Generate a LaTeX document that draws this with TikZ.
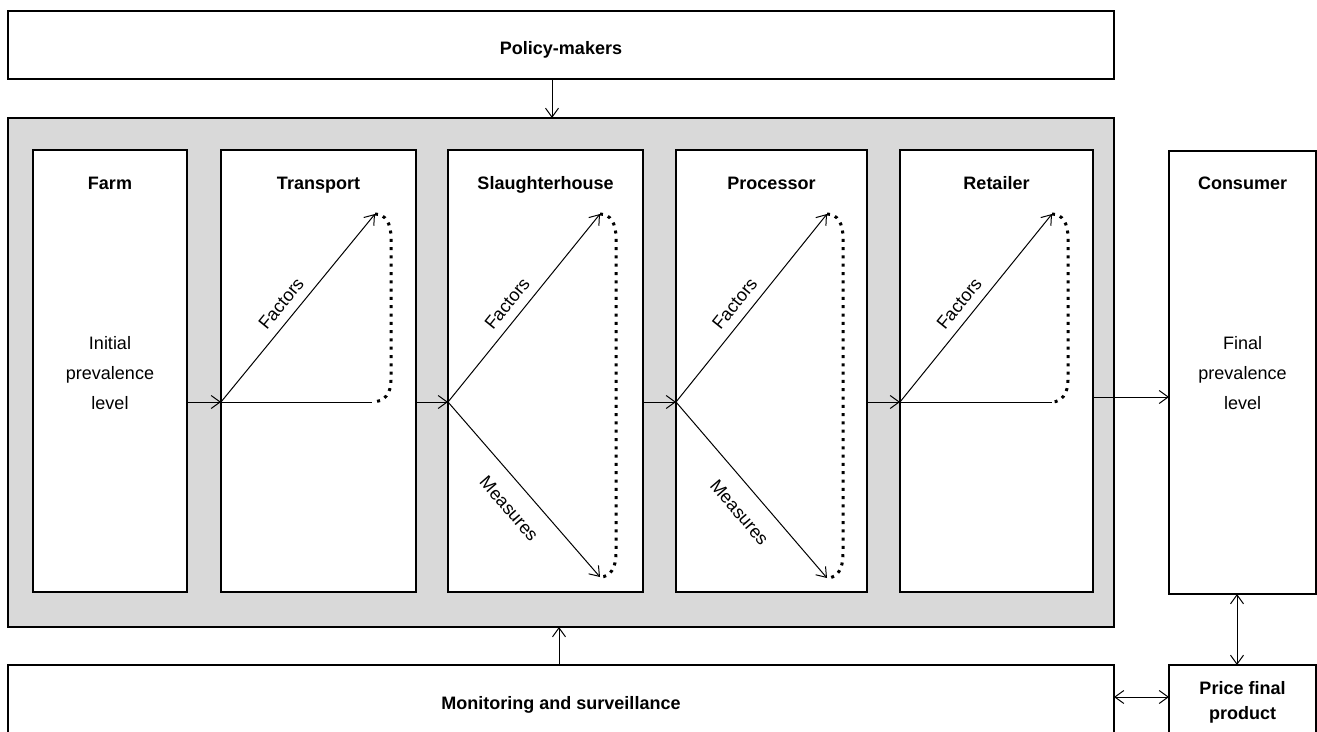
\documentclass[tikz,border=0pt]{standalone}
\usepackage{fontspec}
\setmainfont{Liberation Sans}
\usetikzlibrary{arrows.meta,calc}
\definecolor{chaingray}{HTML}{D9D9D9}
\begin{document}
\begin{tikzpicture}[x=1pt,y=-1pt,
  box/.style={draw=black,line width=1.3pt,fill=white,rectangle,inner sep=0pt,outer sep=0pt},
  title/.style={font=\fontsize{18}{25}\selectfont\bfseries,align=center},
  body/.style={font=\fontsize{18}{30}\selectfont,align=center},
  arr/.style={line width=1pt,-{Straight Barb[length=9pt,width=13pt]}},
  darr/.style={line width=1pt,{Straight Barb[length=9pt,width=13pt]}-{Straight Barb[length=9pt,width=13pt]}},
  flow/.style={line width=1pt},
  loopdots/.style={line width=3pt,dash pattern=on 3pt off 5.3pt},
  labA/.style={font=\fontsize{18}{22}\selectfont,sloped,above,inner sep=9pt},
  labB/.style={font=\fontsize{18}{22}\selectfont,sloped,below,inner sep=17pt},
]
\useasboundingbox (0,0) rectangle (1317,731);
\clip (0,0) rectangle (1317,731);
\fill[white] (0,0) rectangle (1317,731);

% main boxes
\node[box,fill=chaingray,minimum width=1106pt,minimum height=509pt] (chain) at (561,372.5) {};
\node[box,minimum width=1106pt,minimum height=68pt] (policy) at (561,45) {};
\node[title,anchor=base] (policyT) at (561,54) {Policy-makers};
\node[box,title,text height=13pt,text depth=0pt,minimum width=1106pt,minimum height=75pt] (monitor) at (561,702.5) {Monitoring and surveillance};
\node[box,title,minimum width=147pt,minimum height=75pt] (price) at (1242.5,702.5) {Price final\\product};

% stage boxes
\node[box,minimum width=154pt,minimum height=442pt] (farm) at (110,371) {};
\node[box,minimum width=195pt,minimum height=442pt] (transport) at (318.5,371) {};
\node[box,minimum width=195pt,minimum height=442pt] (slaughter) at (545.5,371) {};
\node[box,minimum width=191pt,minimum height=442pt] (processor) at (771.5,371) {};
\node[box,minimum width=193pt,minimum height=442pt] (retailer) at (996.5,371) {};
\node[box,minimum width=147pt,minimum height=443pt] (consumer) at (1242.5,372.5) {};

% titles
\node[title,anchor=base] (farmT) at (110,189.5) {Farm};
\node[title,anchor=base] (transportT) at (318.5,189.5) {Transport};
\node[title,anchor=base] (slaughterT) at (545.5,189.5) {Slaughterhouse};
\node[title,anchor=base] (processorT) at (771.5,189.5) {Processor};
\node[title,anchor=base] (retailerT) at (996.5,189.5) {Retailer};
\node[title,anchor=base] (consumerT) at (1242.5,189.5) {Consumer};

\node[body] (farmB) at (110,373) {Initial\\prevalence\\level};
\node[body] (consumerB) at (1242.5,373) {Final\\prevalence\\level};

% helper coordinates
\coordinate (row) at (0,402);
\coordinate (row2) at (0,397);
\coordinate (pol) at (552,0);
\coordinate (mon) at (559,0);
\coordinate (cp) at (1237,0);
\coordinate (mp) at (0,697);

% flows between stages
\draw[arr] (farm.east |- row) -- (transport.west |- row);
\draw[arr] (transport.east |- row) -- (slaughter.west |- row);
\draw[arr] (slaughter.east |- row) -- (processor.west |- row);
\draw[arr] (processor.east |- row) -- (retailer.west |- row);
\draw[arr] (retailer.east |- row2) -- (consumer.west |- row2);

% vertical links
\draw[arr] (policy.south -| pol) -- (chain.north -| pol);
\draw[arr] (monitor.north -| mon) -- (chain.south -| mon);
\draw[darr] (consumer.south -| cp) -- (price.north -| cp);
\draw[darr] (monitor.east |- mp) -- (price.west |- mp);

% transport
\coordinate (t0) at (transport.west |- row);
\coordinate (tF) at (375,214);
\coordinate (tE) at (372,402);
\draw[arr] (t0) -- node[labA,pos=0.47]{Factors} (tF);
\draw[flow] (t0) -- (tE);
\draw[loopdots] (tF) .. controls (386,214) and (391,224) .. (391,238) -- (391,380) .. controls (391,393) and (385,402) .. (tE);

% slaughterhouse
\coordinate (s0) at (slaughter.west |- row);
\coordinate (sF) at (600,214);
\coordinate (sM) at (600,577);
\draw[arr] (s0) -- node[labA,pos=0.47]{Factors} (sF);
\draw[arr] (s0) -- node[labB,pos=0.52]{Measures} (sM);
\draw[loopdots] (sF) .. controls (611,214) and (616,224) .. (616,238) -- (616,553) .. controls (616,567) and (611,577) .. (sM);

% processor
\coordinate (p0) at (processor.west |- row);
\coordinate (pF) at (827,214);
\coordinate (pM) at (827,578);
\draw[arr] (p0) -- node[labA,pos=0.47]{Factors} (pF);
\draw[arr] (p0) -- node[labB,pos=0.54]{Measures} (pM);
\draw[loopdots] (pF) .. controls (838,214) and (843,224) .. (843,238) -- (843,554) .. controls (843,568) and (838,578) .. (pM);

% retailer
\coordinate (r0) at (retailer.west |- row);
\coordinate (rF) at (1052,214);
\coordinate (rE) at (1052,402);
\draw[arr] (r0) -- node[labA,pos=0.47]{Factors} (rF);
\draw[flow] (r0) -- (rE);
\draw[loopdots] (rF) .. controls (1063,214) and (1068,224) .. (1068,238) -- (1068,380) .. controls (1068,393) and (1062,402) .. (rE);
\end{tikzpicture}
\end{document}
